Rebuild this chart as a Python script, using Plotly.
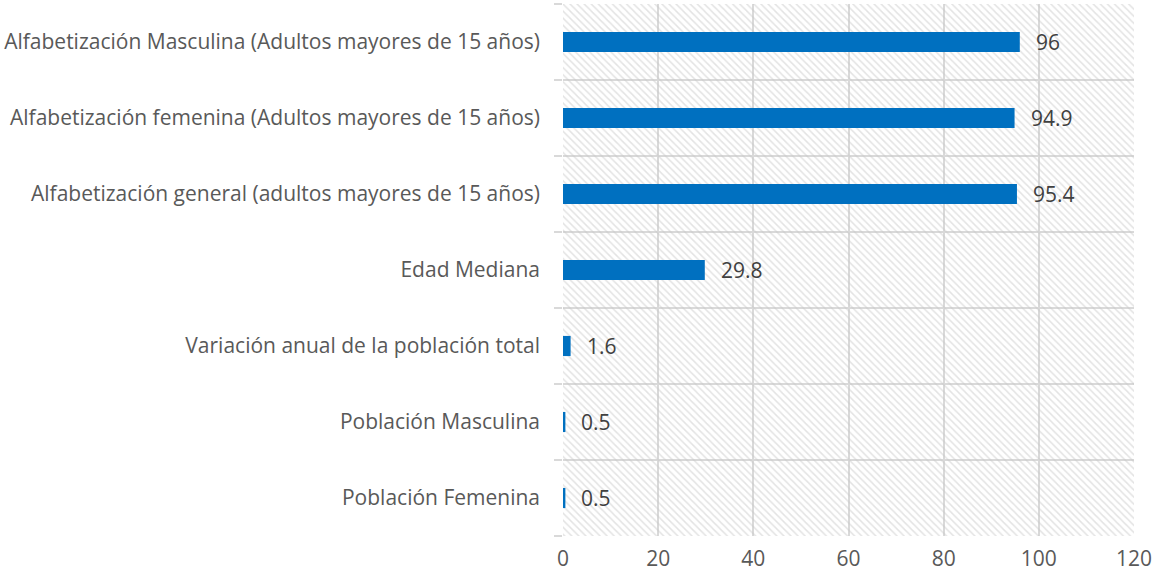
import plotly.graph_objects as go

categories = [
    "Población Femenina",
    "Población Masculina",
    "Variación anual de la población total",
    "Edad Mediana",
    "Alfabetización general (adultos mayores de 15 años)",
    "Alfabetización femenina (Adultos mayores de 15 años)",
    "Alfabetización Masculina (Adultos mayores de 15 años)",
]
values = [0.5, 0.5, 1.6, 29.8, 95.4, 94.9, 96]
x_ticks = [0, 20, 40, 60, 80, 100, 120]

x_range = [x_ticks[0], x_ticks[-1]]
y_pos = list(range(len(categories)))
y_range = [-0.5, len(categories) - 0.5]
FONT = "Open Sans"

fig = go.Figure()

# hatched plot-area background (one full-width band per category)
fig.add_trace(go.Bar(
    x=[x_range[1]] * len(categories), y=y_pos, orientation="h", width=1,
    marker=dict(color="rgba(0,0,0,0)", line=dict(width=0),
                pattern=dict(shape="\\", fgcolor="#c8c8c8", bgcolor="rgba(0,0,0,0)",
                             size=5, solidity=0.3)),
    hoverinfo="skip", showlegend=False,
))

fig.add_trace(go.Bar(
    x=values, y=y_pos, orientation="h",
    marker=dict(color="#0070C0", line=dict(width=0)),
    width=0.265,
    showlegend=False,
))

for v, yp in zip(values, y_pos):
    fig.add_annotation(
        x=v, y=yp, text=f"{v:g}", showarrow=False, xanchor="left", yanchor="middle",
        xshift=14, font=dict(family=FONT, size=21, color="#404040"),
    )

fig.update_layout(
    width=1156, height=579,
    margin=dict(l=563, r=20, t=4, b=43),
    paper_bgcolor="white", plot_bgcolor="white",
    font=dict(family=FONT, size=21, color="#595959"),
    barmode="overlay",
)
fig.update_xaxes(
    range=x_range, tickvals=x_ticks, showgrid=True, gridcolor="#d9d9d9", gridwidth=1.5,
    zeroline=False, showline=False, ticks="", ticklabelstandoff=8,
    tickfont=dict(family=FONT, size=21, color="#595959"),
)
fig.update_yaxes(
    range=y_range, tickvals=y_pos, ticktext=categories, showgrid=False,
    zeroline=False, showline=False, ticks="", ticklabelstandoff=22,
    tickfont=dict(family=FONT, size=21, color="#595959"),
    minor=dict(tickvals=[i - 0.5 for i in range(len(categories) + 1)], showgrid=True,
               gridcolor="#d9d9d9", gridwidth=1.5, ticks="outside", ticklen=8,
               tickcolor="#d9d9d9", tickwidth=1.5),
)

fig.write_html("out.html", config={"displayModeBar": False},
               post_script="document.body.style.margin='0';")
